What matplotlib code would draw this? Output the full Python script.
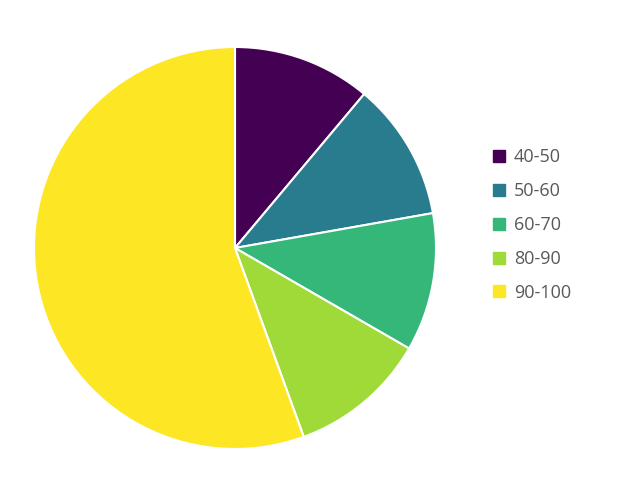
import matplotlib
matplotlib.use("Agg")
import matplotlib.pyplot as plt
from matplotlib.lines import Line2D

categories = ["40-50", "50-60", "60-70", "80-90", "90-100"]
values = [1, 1, 1, 1, 5]
colors = ["#440154", "#287c8e", "#35b779", "#a0da39", "#fde725"]

plt.rcParams['font.family'] = ['Open Sans', 'DejaVu Sans']

fig = plt.figure(figsize=(6.18, 4.8), dpi=100)
cx, cy, r = 235, 248, 201
ax = fig.add_axes([(cx - r) / 618, (480 - cy - r) / 480, 2 * r / 618, 2 * r / 480])
ax.pie(values, colors=colors, startangle=90, counterclock=False,
       wedgeprops=dict(edgecolor="white", linewidth=1.5))
ax.set_aspect('auto')
ax.set_xlim(-1, 1)
ax.set_ylim(-1, 1)

handles = [Line2D([0], [0], marker='s', linestyle='none', markersize=8,
                  markerfacecolor=c, markeredgecolor=c) for c in colors]
leg = fig.legend(handles, categories, loc='center left',
                 bbox_to_anchor=(484 / 618, 1 - 225 / 480), frameon=False,
                 fontsize=13, labelspacing=0.88, handlelength=0.7,
                 handletextpad=0.45, borderpad=0)
for t in leg.get_texts():
    t.set_color("#595959")

fig.savefig("out.png", dpi=100)
